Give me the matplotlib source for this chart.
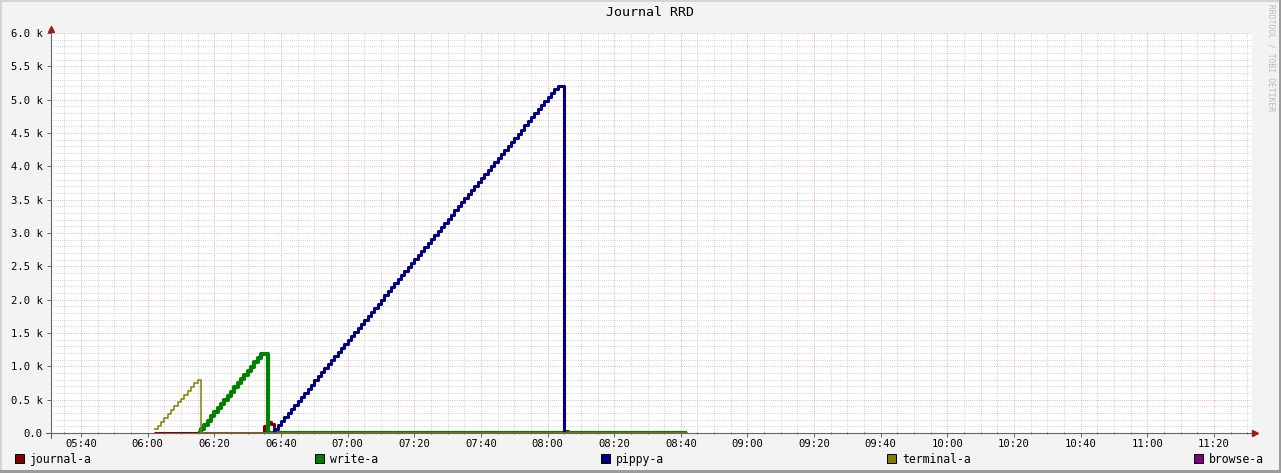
import numpy as np
import matplotlib
matplotlib.use('Agg')
import matplotlib.pyplot as plt
from matplotlib.lines import Line2D
from matplotlib.patches import Rectangle
from matplotlib.ticker import MultipleLocator, FuncFormatter

W, H = 1281, 473
FONT = 'DejaVu Sans Mono'


def hm(s):
    # "HH:MM" -> minutos desde 00:00
    h, m = s.split(':')
    return int(h) * 60 + int(m)


# --- dados (amostras de 1 minuto) ---
t_first, t_last = '06:02', '08:42'

terminal_start = '06:02'
terminal_ramp = [55, 110, 170, 230, 285, 345, 400, 460, 515, 575, 630, 690, 745, 800]

write_start = '06:15'
write_ramp = [0, 60, 125, 185, 250, 310, 375, 435, 500, 560, 620,
              685, 745, 810, 870, 935, 995, 1060, 1120, 1180, 1180]

pippy_start = '06:37'
pippy_ramp = [0,
              60, 120, 180, 240, 300, 365, 425, 485, 545, 605,
              665, 725, 790, 850, 910, 970, 1030, 1090, 1150, 1215,
              1275, 1335, 1395, 1455, 1515, 1575, 1640, 1700, 1760, 1820,
              1880, 1940, 2000, 2065, 2125, 2185, 2245, 2305, 2365, 2425,
              2490, 2550, 2610, 2670, 2730, 2790, 2850, 2915, 2975, 3035,
              3095, 3155, 3215, 3275, 3340, 3400, 3460, 3520, 3580, 3640,
              3700, 3765, 3825, 3885, 3945, 4005, 4065, 4125, 4190, 4250,
              4310, 4370, 4430, 4490, 4550, 4615, 4675, 4735, 4795, 4855,
              4915, 4975, 5040, 5100, 5160, 5200, 5200,
              0]

journal_bump_times = ['06:35', '06:36', '06:37', '08:05']
journal_bump_vals = [110, 170, 130, 30]

names = ['journal-a', 'write-a', 'pippy-a', 'terminal-a', 'browse-a']
colors = ['#800000', '#008000', '#000080', '#808000', '#800080']
widths = [2.2, 3.0, 2.2, 1.1, 2.2]

x_labels = ['05:40', '06:00', '06:20', '06:40', '07:00', '07:20', '07:40', '08:00',
            '08:20', '08:40', '09:00', '09:20', '09:40', '10:00', '10:20', '10:40',
            '11:00', '11:20']

t = np.arange(hm(t_first), hm(t_last) + 1)


def build(start, ramp, zero_after=True):
    y = np.full(t.size, np.nan)
    i0 = hm(start) - t[0]
    y[i0:i0 + len(ramp)] = ramp
    if zero_after:
        y[i0 + len(ramp):] = 0
    return y


journal = np.zeros(t.size)
for tm, v in zip(journal_bump_times, journal_bump_vals):
    journal[hm(tm) - t[0]] = v

series = [journal,
          build(write_start, write_ramp),
          build(pippy_start, pippy_ramp, zero_after=False),
          build(terminal_start, terminal_ramp),
          None]


def fx(x):
    return x / W


def fy(y):
    return 1 - y / H


fig = plt.figure(figsize=(W / 100, H / 100), dpi=100)
fig.patch.set_facecolor('#F3F3F3')

ax = fig.add_axes([fx(51), fy(433), 1201 / W, 400 / H])
ax.set_facecolor('white')

for y, c, lw in zip(series, colors, widths):
    if y is None:
        continue
    ax.plot(t, y, color=c, lw=lw, drawstyle='steps-post',
            solid_joinstyle='round', solid_capstyle='butt')

ax.set_xlim(hm('05:31'), hm('11:31') + 0.4)
ax.set_ylim(0, 6000)

ax.set_xticks([hm(s) for s in x_labels])
ax.set_xticklabels(x_labels)
ax.xaxis.set_minor_locator(MultipleLocator(5))
ax.yaxis.set_major_locator(MultipleLocator(500))
ax.yaxis.set_minor_locator(MultipleLocator(100))
ax.yaxis.set_major_formatter(FuncFormatter(
    lambda v, p: '0.0' if v == 0 else f'{v / 1000:.1f} k'))

ax.set_axisbelow(True)
ax.grid(which='minor', color='#C2C2C2', linestyle=(0, (1, 1.6)), lw=0.6)
ax.grid(which='major', color='#E79A9A', linestyle=(0, (1, 1.6)), lw=0.6)

for sp in ax.spines.values():
    sp.set_visible(False)

ax.tick_params(axis='x', which='major', length=3, width=0.7, color='#666666',
               pad=1.5, labelsize=7.6, direction='out')
ax.tick_params(axis='x', which='minor', length=1.5, width=0.7, color='#666666',
               direction='inout')
ax.tick_params(axis='y', which='major', length=3, width=0.7, color='#666666',
               pad=3, labelsize=7.6, direction='out')
ax.tick_params(axis='y', which='minor', length=0)
for lab in ax.get_xticklabels() + ax.get_yticklabels():
    lab.set_fontfamily(FONT)

# eixos com setas, no estilo do rrdtool
fig.add_artist(Line2D([fx(51), fx(51)], [fy(438), fy(30)], color='#666666', lw=0.8))
fig.add_artist(Line2D([fx(46), fx(1254)], [fy(433), fy(433)], color='#666666', lw=0.8))
fig.add_artist(Line2D([fx(51)], [fy(29)], marker='^', ms=4, color='#9B1C1C', lw=0))
fig.add_artist(Line2D([fx(1255)], [fy(433)], marker='>', ms=4, color='#9B1C1C', lw=0))

fig.text(fx(650), fy(13), 'Journal RRD', ha='center', va='center',
         family=FONT, fontsize=9.5)
fig.text(fx(1271), fy(4), 'RRDTOOL / TOBI OETIKER', ha='center', va='top',
         rotation=270, family=FONT, fontsize=5.8, color='#BBBBBB')

# legenda
leg_x = [15, 315, 601, 887, 1194]
for x0, name, c in zip(leg_x, names, colors):
    fig.add_artist(Rectangle((fx(x0), fy(463)), 9 / W, 9 / H, facecolor=c,
                             edgecolor='black', lw=0.7))
    fig.text(fx(x0 + 15), fy(459), name, ha='left', va='center',
             family=FONT, fontsize=8.3)

# moldura
fig.add_artist(Rectangle((0, fy(2)), 1, 2 / H, color='#D4D4D4', lw=0))
fig.add_artist(Rectangle((0, 0), 2 / W, 1, color='#D4D4D4', lw=0))
fig.add_artist(Rectangle((0, 0), 1, 3 / H, color='#9C9C9C', lw=0))
fig.add_artist(Rectangle((fx(1279), 0), 2 / W, 1, color='#9C9C9C', lw=0))

fig.savefig('out.png', dpi=100, facecolor=fig.get_facecolor())
